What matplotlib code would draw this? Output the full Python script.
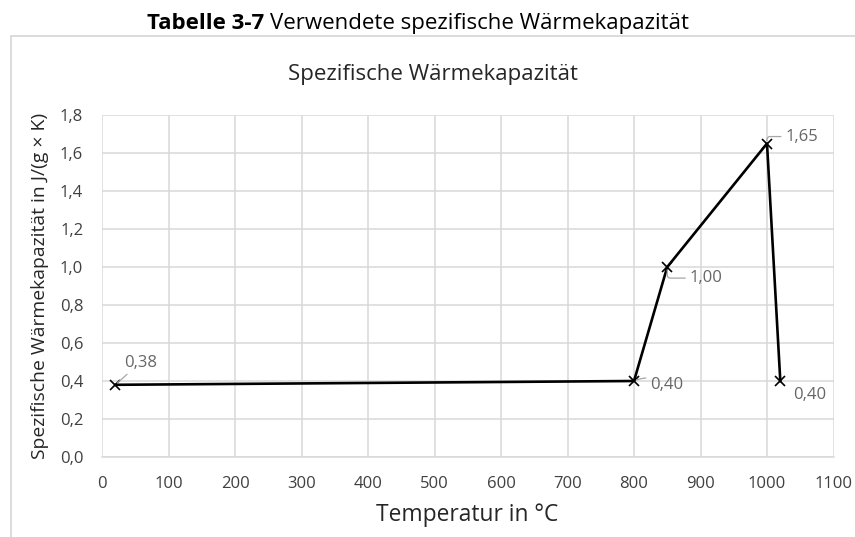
import matplotlib
matplotlib.use("Agg")
import matplotlib.pyplot as plt

# Data
temperature = [20, 800, 850, 1000, 1020]
heat_capacity = [0.38, 0.40, 1.00, 1.65, 0.40]
value_labels = ["0,38", "0,40", "1,00", "1,65", "0,40"]
x_ticks = [0, 100, 200, 300, 400, 500, 600, 700, 800, 900, 1000, 1100]
y_ticks = [0.0, 0.2, 0.4, 0.6, 0.8, 1.0, 1.2, 1.4, 1.6, 1.8]

FONT = "Open Sans"
W, H = 855, 537

fig = plt.figure(figsize=(W / 100, H / 100), dpi=100)
fig.patch.set_facecolor("white")
renderer = fig.canvas.get_renderer()


def fx(px):
    return px / W


def fy(py):
    return 1 - py / H


def fit(text, target_px, vertical=False):
    """Scale a text's font size so its extent matches target_px."""
    bb = text.get_window_extent(renderer)
    size = bb.height if vertical else bb.width
    text.set_fontsize(text.get_fontsize() * target_px / size)


# Chart frame (light grey border)
frame = plt.Rectangle((fx(11), -0.1), 1.2, fy(36) + 0.1, transform=fig.transFigure,
                      fill=False, edgecolor="#d9d9d9", linewidth=1.3)
fig.add_artist(frame)

# Caption above the chart: bold label followed by regular text
cap_base = fy(29)
t1 = fig.text(0, cap_base, "Tabelle 3-7", fontsize=14, fontweight="bold",
              family=FONT, va="baseline", ha="left", color="black")
t2 = fig.text(0, cap_base, "Verwendete spezifische Wärmekapazität", fontsize=14,
              family=FONT, va="baseline", ha="left", color="black")
gap = 0.27 * 14 * 100 / 72
total = t1.get_window_extent(renderer).width + gap + t2.get_window_extent(renderer).width
scale = 545 / total
for t in (t1, t2):
    t.set_fontsize(t.get_fontsize() * scale)
gap *= scale
w1 = t1.get_window_extent(renderer).width
w2 = t2.get_window_extent(renderer).width
start = 418 - (w1 + gap + w2) / 2
t1.set_x(fx(start))
t2.set_x(fx(start + w1 + gap))

# Chart title
title = fig.text(fx(433), fy(80), "Spezifische Wärmekapazität", family=FONT, fontsize=15,
                 ha="center", va="baseline", color="#262626")
fit(title, 290)

# Axis titles
xlab = fig.text(fx(467), fy(521), "Temperatur in °C", family=FONT, fontsize=15,
                ha="center", va="baseline", color="#262626")
fit(xlab, 182)
ylab = fig.text(fx(40), fy(286), "Spezifische Wärmekapazität in J/(g × K)", family=FONT,
                fontsize=14, rotation=90, ha="center", va="center", color="#262626")
fit(ylab, 348, vertical=True)

# Plot area
ax = fig.add_axes([fx(102), fy(457), (833.5 - 102) / W, (457 - 115) / H])
ax.set_xlim(0, 1100)
ax.set_ylim(0, 1.8)
ax.set_xticks(x_ticks)
ax.set_yticks(y_ticks)
ax.set_xticklabels([str(v) for v in x_ticks], family=FONT, fontsize=12, color="#404040")
ax.set_yticklabels([f"{v:.1f}".replace(".", ",") for v in y_ticks], family=FONT,
                   fontsize=12, color="#404040")
ax.tick_params(length=0)
ax.tick_params(axis="x", pad=13.5)
ax.tick_params(axis="y", pad=13.5)
ax.grid(True, color="#d9d9d9", linewidth=1.1)
ax.set_axisbelow(True)
for s in ["top", "right", "left"]:
    ax.spines[s].set_visible(False)
ax.spines["bottom"].set_color("#d9d9d9")
ax.spines["bottom"].set_linewidth(1.1)

ax.plot(temperature, heat_capacity, color="black", linewidth=1.9, marker="x",
        markersize=6.5, markeredgewidth=1.2, zorder=3)

# Value labels (offsets in points from each data point) with thin leader lines
label_offsets = [(6, 16), (11.5, -3), (16, -8), (13, 5), (9, -10)]
leader_style = ["arc3", "arc3,rad=0.3", "angle,angleA=0,angleB=90,rad=3",
                "angle,angleA=0,angleB=90,rad=3", None]
for x, y, txt, off, conn in zip(temperature, heat_capacity, value_labels,
                                label_offsets, leader_style):
    props = None
    if conn is not None:
        props = dict(arrowstyle="-", color="#a6a6a6", lw=0.9, shrinkA=1, shrinkB=2,
                     connectionstyle=conn)
    ax.annotate(txt, xy=(x, y), xytext=off, textcoords="offset points",
                ha="left", va="center", fontsize=12, family=FONT, color="#666666",
                arrowprops=props)

fig.savefig("out.png", dpi=100)
